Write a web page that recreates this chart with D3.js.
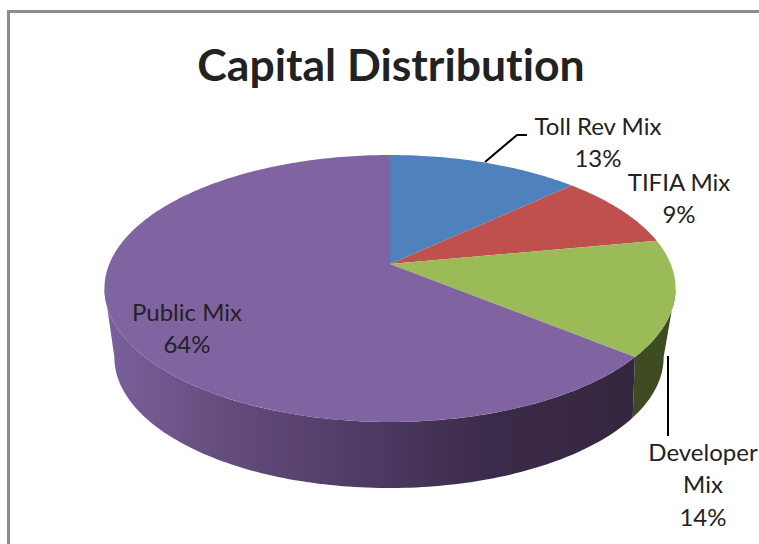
<!DOCTYPE html>
<html><head><meta charset="utf-8">
<script src="https://cdn.jsdelivr.net/npm/d3@7"></script>
<style>html,body{margin:0;padding:0;background:#fff}svg{display:block}text{font-family:Lato,"Open Sans",sans-serif;fill:#222;font-variant-ligatures:none}</style>
</head><body><div id="chart"></div>
<script>
// Capital shares, in percent, clockwise from twelve o'clock
const categories = ["Toll Rev Mix", "TIFIA Mix", "Developer Mix", "Public Mix"];
const shares = [13, 9, 14, 64];
const topColors = ["#4F81BD", "#C0504D", "#9BBB59", "#8064A2"];
const wallColors = ["#2a4260", "#622825", "#3f4c22", "url(#publicWall)"];
const chartTitle = "Capital Distribution";

const W = 759, H = 544;
const svg = d3.select("#chart").append("svg").attr("width", W).attr("height", H);

// Shading along the front wall of the largest slice
const grad = svg.append("defs").append("linearGradient")
  .attr("id", "publicWall").attr("gradientUnits", "userSpaceOnUse")
  .attr("x1", 104).attr("x2", 640).attr("y1", 0).attr("y2", 0);
[[0, "#7c619d"], [.2, "#664e80"], [.45, "#523d68"], [.72, "#3b2b4a"], [1, "#35263f"]]
  .forEach(([o, c]) => grad.append("stop").attr("offset", o).attr("stop-color", c));

// Chart frame: only the top and left edges fall inside the page
svg.append("path").attr("d", `M8.5,${H}V11.5H${W}`)
  .attr("fill", "none").attr("stroke", "#8c8c8c").attr("stroke-width", 3);

// Perspective projection of the unit disc onto the page
const topDisc = {cx: 390, cy: 264, a: 280.7, b: 129, k: 0.1835};
const baseDisc = {cx: 389, cy: 324.7, a: 265.9, b: 122.5, k: 0.25};
const project = (d, t) => {
  const x = Math.sin(t), y = -Math.cos(t), w = 1 - d.k * y;
  return [d.cx + d.a * x / w, d.cy + d.b * y / w];
};
const rad = d => d * Math.PI / 180;
const arcPoints = (d, t0, t1) => {
  const n = Math.max(2, Math.ceil(Math.abs(t1 - t0) / rad(1)));
  return d3.range(n + 1).map(i => project(d, t0 + (t1 - t0) * i / n));
};
const line = d3.line();

const slices = d3.pie().sort(null)(shares);

// Each disc's visible front arc runs between its two silhouette angles
const frontArc = (d, s) => {
  const t0 = Math.max(s.startAngle, Math.PI - Math.acos(d.k));
  const t1 = Math.min(s.endAngle, Math.PI + Math.acos(d.k));
  return t1 > t0 ? arcPoints(d, t0, t1) : null;
};
slices.forEach((s, i) => {
  const upper = frontArc(topDisc, s), lower = frontArc(baseDisc, s);
  if (!upper || !lower) return;
  svg.append("path")
    .attr("d", line([...upper, ...lower.reverse()]) + "Z")
    .attr("fill", wallColors[i]);
});

// Top faces of the slices
slices.forEach((s, i) => {
  svg.append("path")
    .attr("d", line([[topDisc.cx, topDisc.cy], ...arcPoints(topDisc, s.startAngle, s.endAngle)]) + "Z")
    .attr("fill", topColors[i]);
});

// Leader lines for the two labels placed away from their slices
const leaders = [[[485, 162], [517, 135], [527, 135]], [[668, 356], [668, 436]]];
leaders.forEach(p => svg.append("path").attr("d", line(p))
  .attr("fill", "none").attr("stroke", "#000").attr("stroke-width", 2));

svg.append("text").attr("x", 391).attr("y", 81).attr("text-anchor", "middle")
  .attr("font-size", 44.5).attr("font-weight", 700).text(chartTitle);

// Data labels: name above value, with the Developer name wrapped on two lines
const labels = [
  {lines: ["Toll Rev Mix"], i: 0, x: 598, y: 135},
  {lines: ["TIFIA Mix"], i: 1, x: 679, y: 191},
  {lines: ["Developer", "Mix"], i: 2, x: 703, y: 461},
  {lines: ["Public Mix"], i: 3, x: 187, y: 321}
];
labels.forEach(l => {
  [...l.lines, shares[l.i] + "%"].forEach((t, j) =>
    svg.append("text").attr("x", l.x).attr("y", l.y + j * 32.3)
      .attr("text-anchor", "middle").attr("font-size", 24).text(t));
});
</script></body></html>
